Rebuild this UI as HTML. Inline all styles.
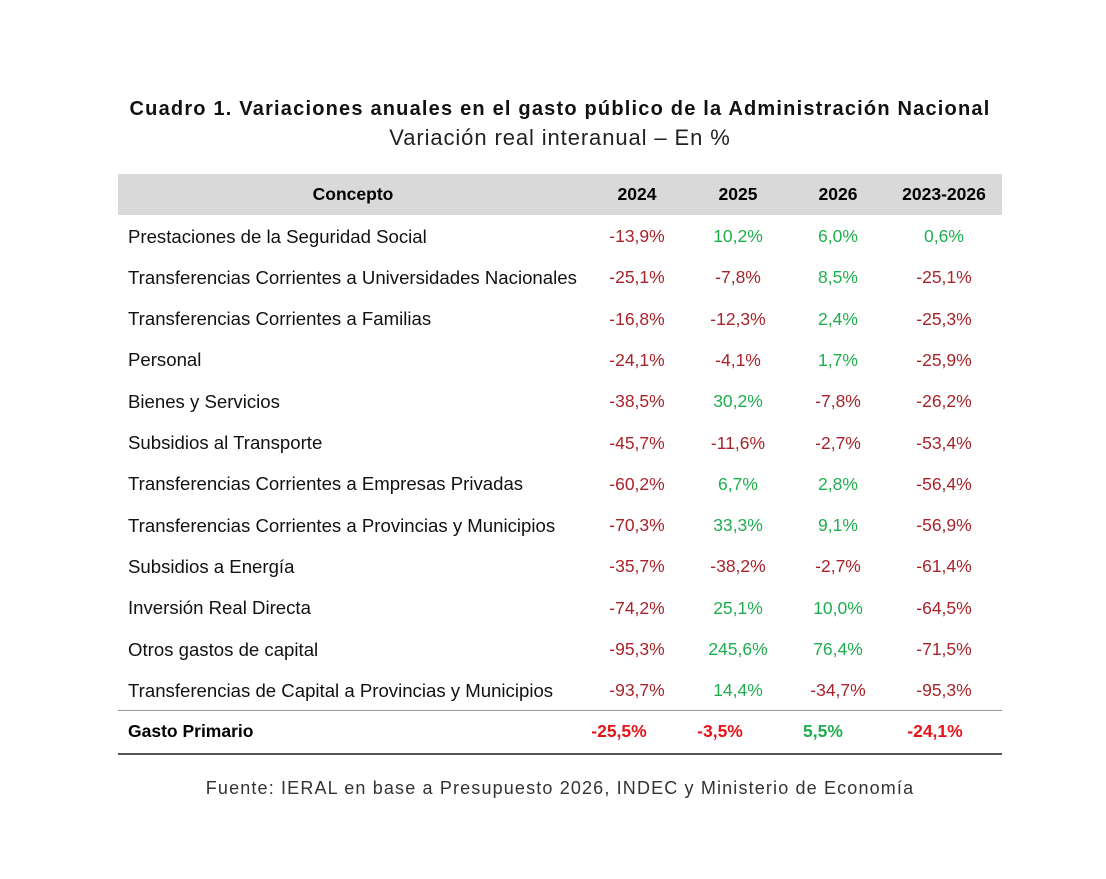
<!DOCTYPE html>
<html><head><meta charset="utf-8"><style>
body{margin:0;width:1106px;height:879px;background:#fff;font-family:"Liberation Sans",sans-serif;position:relative;overflow:hidden}
.t{position:absolute;white-space:nowrap}
.c{position:absolute;width:110px;text-align:center;font-size:17.5px}
.r{color:#a8242a}.g{color:#1fae4f}
.br{color:#e5141b;font-weight:bold}.bg{color:#1fae4f;font-weight:bold}
</style></head><body>
<div class="t" style="left:0;width:1120px;text-align:center;top:98px;font-size:20px;letter-spacing:1.2px;font-weight:bold;color:#111">Cuadro 1. Variaciones anuales en el gasto público de la Administración Nacional</div>
<div class="t" style="left:0;width:1120px;text-align:center;top:125px;font-size:22px;letter-spacing:0.9px;color:#222">Variación real interanual – En %</div>
<div style="position:absolute;left:118px;top:174px;width:884px;height:41px;background:#d9d9d9"></div>
<div class="t" style="left:208px;width:290px;text-align:center;top:184px;font-size:17.5px;font-weight:bold">Concepto</div>
<div class="c" style="left:582px;top:184px;font-weight:bold">2024</div>
<div class="c" style="left:683px;top:184px;font-weight:bold">2025</div>
<div class="c" style="left:783px;top:184px;font-weight:bold">2026</div>
<div class="c" style="left:889px;top:184px;font-weight:bold">2023-2026</div>
<div id="rows"></div>
<div style="position:absolute;left:118px;top:710px;width:884px;height:1px;background:#999"></div>
<div style="position:absolute;left:118px;top:753px;width:884px;height:2px;background:#555"></div>
<div class="t" style="left:128px;top:721px;font-size:17.5px;font-weight:bold">Gasto Primario</div>
<div class="c br" style="left:564px;top:721px">-25,5%</div>
<div class="c br" style="left:665px;top:721px">-3,5%</div>
<div class="c bg" style="left:768px;top:721px">5,5%</div>
<div class="c br" style="left:880px;top:721px">-24,1%</div>
<div class="t" style="left:0;width:1120px;text-align:center;top:778px;font-size:18px;letter-spacing:1.15px;color:#333">Fuente: IERAL en base a Presupuesto 2026, INDEC y Ministerio de Economía</div>
<script>
var d=[["Prestaciones de la Seguridad Social","-13,9%","10,2%","6,0%","0,6%"],
["Transferencias Corrientes a Universidades Nacionales","-25,1%","-7,8%","8,5%","-25,1%"],
["Transferencias Corrientes a Familias","-16,8%","-12,3%","2,4%","-25,3%"],
["Personal","-24,1%","-4,1%","1,7%","-25,9%"],
["Bienes y Servicios","-38,5%","30,2%","-7,8%","-26,2%"],
["Subsidios al Transporte","-45,7%","-11,6%","-2,7%","-53,4%"],
["Transferencias Corrientes a Empresas Privadas","-60,2%","6,7%","2,8%","-56,4%"],
["Transferencias Corrientes a Provincias y Municipios","-70,3%","33,3%","9,1%","-56,9%"],
["Subsidios a Energía","-35,7%","-38,2%","-2,7%","-61,4%"],
["Inversión Real Directa","-74,2%","25,1%","10,0%","-64,5%"],
["Otros gastos de capital","-95,3%","245,6%","76,4%","-71,5%"],
["Transferencias de Capital a Provincias y Municipios","-93,7%","14,4%","-34,7%","-95,3%"]];
var L=[582,683,783,889],h="";
d.forEach(function(r,i){var y=226+i*41.3;
h+='<div class="t" style="left:128px;top:'+(y-0.5)+'px;font-size:18.6px;color:#111">'+r[0]+'</div>';
for(var j=1;j<5;j++){h+='<div class="c '+(r[j][0]=="-"?"r":"g")+'" style="left:'+L[j-1]+'px;top:'+y+'px">'+r[j]+'</div>';}});
document.getElementById("rows").innerHTML=h;
</script>
</body></html>
